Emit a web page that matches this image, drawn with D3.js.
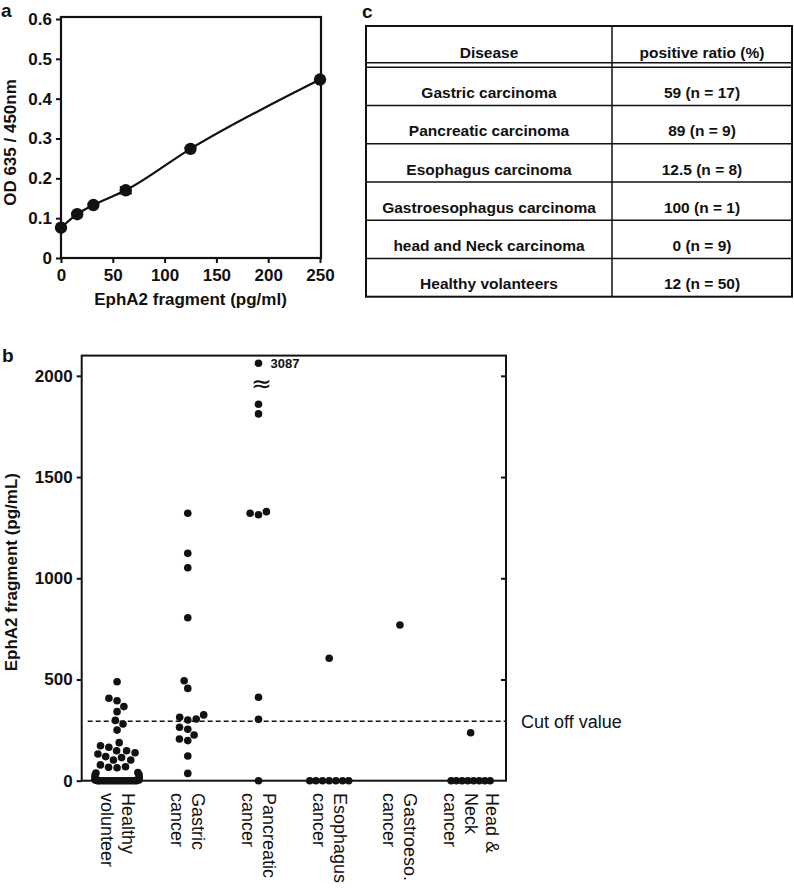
<!DOCTYPE html>
<html><head><meta charset="utf-8">
<script src="https://cdn.jsdelivr.net/npm/d3@7"></script>
<style>
body{margin:0;background:#fff;}
svg{display:block;font-family:"Liberation Sans", Arial, Helvetica, sans-serif;}
</style></head><body>
<svg id="chart" width="794" height="889"></svg>
<script>
// ---------- Panel a data ----------
const concA = [0, 15.625, 31.25, 62.5, 125, 250];
const odA = [0.076, 0.110, 0.133, 0.170, 0.274, 0.448];
const odErrA = [0, 0, 0, 0.008, 0, 0];
const xTicksA = [0, 50, 100, 150, 200, 250];
const yTicksA = [0, 0.1, 0.2, 0.3, 0.4, 0.5, 0.6];

// ---------- Panel c data ----------
const tableHeader = ["Disease", "positive ratio (%)"];
const diseases = ["Gastric carcinoma", "Pancreatic carcinoma", "Esophagus carcinoma",
  "Gastroesophagus carcinoma", "head and Neck carcinoma", "Healthy volanteers"];
const ratios = ["59 (n = 17)", "89 (n = 9)", "12.5 (n = 8)", "100 (n = 1)", "0 (n = 9)", "12 (n = 50)"];

// ---------- Panel b data ----------
const groupNames = ["Healthy volunteer", "Gastric cancer", "Pancreatic cancer", "Esophagus cancer", "Gastroeso. cancer", "Head & Neck cancer"];
const groupLabelLines = [["Healthy", "volunteer"], ["Gastric", "cancer"], ["Pancreatic", "cancer"],
  ["Esophagus", "cancer"], ["Gastroeso.", "cancer"], ["Head &", "Neck", "cancer"]];
const healthy = [489, 407, 395, 366, 341, 298, 280, 250, 188, 173, 165, 148, 148, 138, 132, 119, 114, 102, 102,
  78, 69, 66, 64, 40, 38, 30, 28, 18, 16, 9, 8, 4, 3,
  0, 0, 0, 0, 0, 0, 0, 0, 0, 0, 0, 0, 0, 0, 0, 0, 0];
const gastric = [1321, 1123, 1052, 805, 494, 456, 325, 313, 305, 300, 264, 254, 226, 206, 198, 122, 36];
const pancreatic = [3087, 1860, 1812, 1329, 1321, 1314, 412, 303, 0];
const esophagus = [605, 0, 0, 0, 0, 0, 0, 0];
const gastroeso = [769];
const headNeck = [237, 0, 0, 0, 0, 0, 0, 0, 0];
const groupValues = [healthy, gastric, pancreatic, esophagus, gastroeso, headNeck];
const cutOff = 294;
const yTicksB = [0, 500, 1000, 1500, 2000];
const axisBreak = 2000;        // values above are drawn above the axis break
const breakShownAt = 2062;     // axis value where broken points are drawn

const svg = d3.select("#chart");
const INK = "#111";

// ================= Panel a =================
const xA = d3.scaleLinear().domain([0, 250]).range([61, 320]);
const yA = d3.scaleLinear().domain([0, 0.6]).range([258, 19]);
const gA = svg.append("g");
gA.append("rect").attr("x", xA(0)).attr("y", yA(0.6) - 2)
  .attr("width", xA(250) + 1 - xA(0)).attr("height", yA(0) - yA(0.6) + 2)
  .attr("fill", "none").attr("stroke", INK).attr("stroke-width", 2.2);
const axAL = gA.append("g").attr("transform", `translate(${xA(0)},0)`)
  .call(d3.axisLeft(yA).tickValues(yTicksA).tickSize(5).tickPadding(4)
    .tickFormat(d => d === 0 ? "0" : d3.format(".1f")(d)));
const axAB = gA.append("g").attr("transform", `translate(0,${yA(0)})`)
  .call(d3.axisBottom(xA).tickValues(xTicksA).tickSize(5).tickPadding(6));
[axAL, axAB].forEach(ax => {
  ax.select(".domain").remove();
  ax.selectAll(".tick line").attr("stroke", INK).attr("stroke-width", 2);
  ax.selectAll("text").attr("fill", INK).style("font-size", "17px").style("font-weight", "bold")
    .style("font-family", '"Liberation Sans", Arial, sans-serif');
});
const ptsA = concA.map((c, i) => ({c, od: odA[i], e: odErrA[i]}));
gA.append("path").datum(ptsA)
  .attr("d", d3.line().x(d => xA(d.c)).y(d => yA(d.od)).curve(d3.curveMonotoneX))
  .attr("fill", "none").attr("stroke", INK).attr("stroke-width", 2.2);
const errs = gA.selectAll(".err").data(ptsA.filter(d => d.e > 0)).enter().append("g");
errs.append("line").attr("x1", d => xA(d.c)).attr("x2", d => xA(d.c))
  .attr("y1", d => yA(d.od - d.e)).attr("y2", d => yA(d.od + d.e)).attr("stroke", INK).attr("stroke-width", 2);
[-1, 1].forEach(s => errs.append("line").attr("x1", d => xA(d.c) - 6).attr("x2", d => xA(d.c) + 6)
  .attr("y1", d => yA(d.od + s * d.e)).attr("y2", d => yA(d.od + s * d.e)).attr("stroke", INK).attr("stroke-width", 2));
gA.selectAll(".dotA").data(ptsA).enter().append("circle")
  .attr("cx", d => xA(d.c)).attr("cy", d => yA(d.od)).attr("r", 6.2).attr("fill", INK);
gA.append("text").attr("x", (xA(0) + xA(250)) / 2).attr("y", 305).attr("text-anchor", "middle")
  .style("font-size", "17px").style("font-weight", "bold").attr("fill", INK).text("EphA2 fragment (pg/ml)");
gA.append("text").attr("transform", `translate(16,${(yA(0) + yA(0.6)) / 2 + 4}) rotate(-90)`)
  .attr("text-anchor", "middle").style("font-size", "17px").style("font-weight", "bold").attr("fill", INK)
  .text("OD 635 / 450nm");
svg.append("text").attr("x", 1).attr("y", 17).style("font-size", "19px").style("font-weight", "bold").attr("fill", INK).text("a");

// ================= Panel c (table) =================
const gC = svg.append("g");
const tL = 366, tR = 792, tT = 26, colX = 612, hdrB = 62.7, bodyT = 67.3, tB = 296.7;
const rowY = d3.scaleBand().domain(diseases).range([bodyT, tB]);
gC.append("rect").attr("x", tL).attr("y", tT).attr("width", tR - tL).attr("height", tB - tT)
  .attr("fill", "none").attr("stroke", INK).attr("stroke-width", 2);
gC.append("line").attr("x1", colX).attr("x2", colX).attr("y1", tT).attr("y2", tB).attr("stroke", INK).attr("stroke-width", 1.5);
gC.append("line").attr("x1", tL).attr("x2", tR).attr("y1", hdrB).attr("y2", hdrB).attr("stroke", INK).attr("stroke-width", 1.5);
gC.selectAll(".rl").data(diseases).enter().append("line")
  .attr("x1", tL).attr("x2", tR).attr("y1", d => rowY(d)).attr("y2", d => rowY(d))
  .attr("stroke", INK).attr("stroke-width", 1.5);
const c1 = (tL + colX) / 2, c2 = (colX + tR) / 2;
const tstyle = s => s.style("font-size", "15.5px").style("font-weight", "bold").attr("fill", INK).attr("text-anchor", "middle");
gC.append("text").attr("x", c1).attr("y", hdrB - 5).call(tstyle).text(tableHeader[0]);
gC.append("text").attr("x", c2).attr("y", hdrB - 5).call(tstyle).text(tableHeader[1]);
gC.selectAll(".d").data(diseases).enter().append("text")
  .attr("x", c1).attr("y", d => rowY(d) + rowY.bandwidth() - 7.5).call(tstyle).text(d => d);
gC.selectAll(".r").data(ratios).enter().append("text")
  .attr("x", c2).attr("y", (d, i) => rowY(diseases[i]) + rowY.bandwidth() - 7.5).call(tstyle).text(d => d);
svg.append("text").attr("x", 362).attr("y", 18).style("font-size", "19px").style("font-weight", "bold").attr("fill", INK).text("c");

// ================= Panel b =================
const xB = d3.scalePoint().domain(groupNames).range([81.7, 506]).padding(0.5);
const yB = d3.scaleLinear().domain([0, 2100]).range([780.7, 355.6]);
const gB = svg.append("g");
gB.append("rect").attr("x", xB.range()[0]).attr("y", yB(2100))
  .attr("width", xB.range()[1] - xB.range()[0]).attr("height", yB(0) - yB(2100))
  .attr("fill", "none").attr("stroke", INK).attr("stroke-width", 2);
const axBL = gB.append("g").attr("transform", `translate(${xB.range()[0]},0)`)
  .call(d3.axisLeft(yB).tickValues(yTicksB).tickSize(5).tickPadding(4).tickFormat(d3.format("d")));
const axBR = gB.append("g").attr("transform", `translate(${xB.range()[1]},0)`)
  .call(d3.axisLeft(yB).tickValues(yTicksB.filter(v => v > 0)).tickSize(5).tickFormat(""));
[axBL, axBR].forEach(ax => {
  ax.select(".domain").remove();
  ax.selectAll(".tick line").attr("stroke", INK).attr("stroke-width", 2);
  ax.selectAll("text").attr("fill", INK).style("font-size", "17px").style("font-weight", "bold")
    .style("font-family", '"Liberation Sans", Arial, sans-serif');
});
// cut-off line
gB.append("line").attr("x1", xB.range()[0] + 6).attr("x2", xB.range()[1])
  .attr("y1", yB(cutOff)).attr("y2", yB(cutOff))
  .attr("stroke", INK).attr("stroke-width", 1.6).attr("stroke-dasharray", "5,3");
gB.append("text").attr("x", xB.range()[1] + 15).attr("y", yB(cutOff) + 6.5)
  .style("font-size", "18px").attr("fill", INK).text("Cut off value");

// swarm layout
const D = 8.5, MAXW = 20, R = 3.8;
function swarm(values) {
  const pts = values.map(v => ({v, d: v > axisBreak ? breakShownAt : v}));
  pts.forEach(p => p.py = yB(p.d));
  const counts = d3.rollup(pts, g => g.length, p => p.d);
  const sorted = pts.slice().sort((a, b) => a.d - b.d);
  const placed = [], tieIdx = new Map();
  for (const p of sorted) {
    const k = counts.get(p.d);
    if (k >= 3) {
      const s = Math.min(D, 2 * MAXW / (k - 1));
      const i = tieIdx.get(p.d) || 0; tieIdx.set(p.d, i + 1);
      p.x = (i - (k - 1) / 2) * s;
    } else {
      const cands = [0];
      for (const q of placed) {
        const dy = Math.abs(q.py - p.py);
        if (dy < D) { const dx = Math.sqrt(D * D - dy * dy); cands.push(q.x - dx, q.x + dx); }
      }
      const left = placed.filter(q => q.x < 0).length, right = placed.filter(q => q.x > 0).length;
      const pref = left <= right ? -1 : 1;
      cands.sort((a, b) => (Math.abs(a) - Math.abs(b)) || (a * pref > b * pref ? -1 : 1));
      p.x = cands.find(c => placed.every(q => (q.x - c) ** 2 + (q.py - p.py) ** 2 >= D * D - 1e-6));
    }
    placed.push(p);
  }
  pts.forEach(p => {
    const a = Math.abs(p.x);
    p.xd = a <= 16 ? p.x : Math.sign(p.x) * (16 + 6 * Math.tanh((a - 16) / 6));
  });
  return pts;
}
groupValues.forEach((vals, gi) => {
  const cx = xB(groupNames[gi]);
  const pts = swarm(vals);
  gB.selectAll(null).data(pts).enter().append("circle")
    .attr("cx", d => cx + d.xd).attr("cy", d => yB(d.d)).attr("r", R).attr("fill", INK);
  pts.filter(p => p.v > axisBreak).forEach(p => {
    gB.append("text").attr("x", cx + p.xd + 12).attr("y", yB(p.d) + 5)
      .style("font-size", "13px").style("font-weight", "bold").attr("fill", INK).text(p.v);
    gB.append("text").attr("x", cx + p.xd + 3).attr("y", yB(p.d) + 29).attr("text-anchor", "middle")
      .style("font-family", '"DejaVu Sans", sans-serif').style("font-size", "25px").attr("fill", INK).text("≈");
  });
});
// x labels
groupNames.forEach((g, gi) => {
  const lines = groupLabelLines[gi];
  const t = gB.append("text").attr("transform", `translate(${xB(g)},793) rotate(90)`)
    .style("font-size", "18px").attr("fill", INK);
  lines.forEach((ln, i) => {
    t.append("tspan").attr("x", 0).attr("y", (i - (lines.length - 1) / 2) * 21 + 6).text(ln);
  });
});
gB.append("text").attr("transform", `translate(17,${(yB(0) + yB(2100)) / 2 + 4}) rotate(-90)`)
  .attr("text-anchor", "middle").style("font-size", "17px").style("font-weight", "bold").attr("fill", INK)
  .text("EphA2 fragment (pg/mL)");
svg.append("text").attr("x", 2).attr("y", 362).style("font-size", "19px").style("font-weight", "bold").attr("fill", INK).text("b");
</script>
</body></html>
